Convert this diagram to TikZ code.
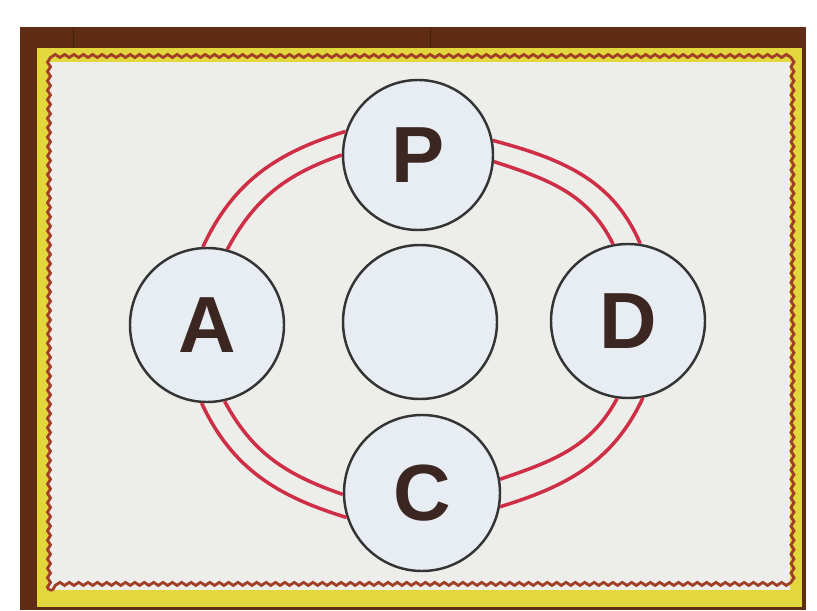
\documentclass[tikz,border=0pt]{standalone}
\usepackage{fontspec}
\setsansfont{Liberation Sans}
\usetikzlibrary{decorations.pathmorphing}
\definecolor{wood}{RGB}{96,44,20}
\definecolor{woodline}{RGB}{70,30,12}
\definecolor{yellowband}{RGB}{226,216,62}
\definecolor{paper}{RGB}{237,238,234}
\definecolor{redborder}{RGB}{160,62,40}
\definecolor{discfill}{RGB}{231,237,242}
\definecolor{ring}{RGB}{52,52,52}
\definecolor{arcred}{RGB}{206,46,70}
\definecolor{letter}{RGB}{60,38,33}
\begin{document}
\begin{tikzpicture}[x=0.03cm,y=0.03cm,
  disc/.style={circle, draw=ring, line width=2.1pt, fill=discfill, inner sep=0pt,
    minimum size=#1, font=\sffamily\bfseries\fontsize{68}{68}\selectfont, text=letter},
  disc/.default=4.62cm,
  redarc/.style={draw=arcred, line width=3pt}]
\useasboundingbox (0,0) rectangle (817,610);
\fill[white] (0,0) rectangle (817,610);
\fill[wood] (20,0) rectangle (806,583);
\draw[woodline, line width=0.6pt] (73,562) -- (73,583);
\draw[woodline, line width=0.6pt] (430,562) -- (430,583);
\fill[yellowband] (37,3) rectangle (802,562);
\fill[paper] (49,20) rectangle (790,548);
\draw[redborder, line width=2.4pt, decorate, decoration={snake, amplitude=1.3, segment length=8}] (49,20) rectangle (790,548);

\node[disc=4.5cm]  (P) at (418,455) {P};
\node[disc]        (A) at (207,285) {A};
\node[disc]        (M) at (420,288) {};
\node[disc]        (D) at (628,289) {D};
\node[disc=4.68cm] (C) at (422,117) {C};

% upper left: A -- P
\draw[redarc] (A.93) to[out=65, in=197] (P.162);
\draw[redarc] (A.75) to[out=62, in=199] (P.180);
% upper right: P -- D
\draw[redarc] (P.11) to[out=-15, in=113] (D.81);
\draw[redarc] (P.-5) to[out=-18, in=116] (D.101);
% lower left: A -- C
\draw[redarc] (A.-94) to[out=-65, in=163] (C.198);
\draw[redarc] (A.-77) to[out=-62, in=161] (C.181);
% lower right: C -- D
\draw[redarc] (C.-10) to[out=17, in=245] (D.-79);
\draw[redarc] (C.10) to[out=19, in=242] (D.-98);
\end{tikzpicture}
\end{document}
